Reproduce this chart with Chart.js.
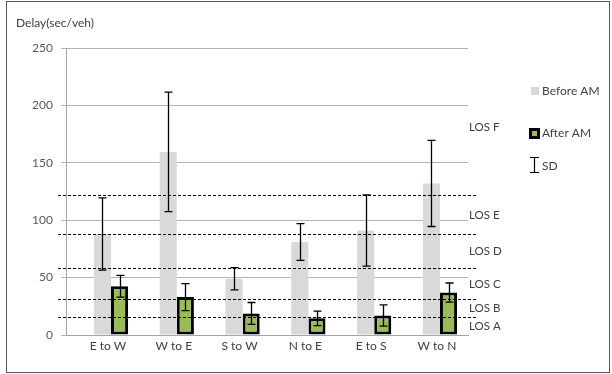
<!DOCTYPE html>
<html>
<head>
<meta charset="utf-8">
<script src="https://cdn.jsdelivr.net/npm/chart.js"></script>
<style>
  body { margin: 0; background: #fff; }
  #wrap { width: 612px; height: 374px; }
</style>
</head>
<body>
<div id="wrap"><canvas id="delayChart" width="612" height="374"></canvas></div>
<script>
// values
const directions = ['E to W', 'W to E', 'S to W', 'N to E', 'E to S', 'W to N'];
const beforeAM = [88, 159.5, 49, 81, 91, 132];
const beforeSD = [31.5, 52, 9.7, 16, 31, 37.5];
const afterAM = [42.5, 33, 18.8, 14.5, 17, 37];
const afterSD = [9.5, 11.7, 9.5, 6.3, 9.2, 8.3];
const losLimits = [16, 31, 58, 88, 122];
const losNames = ['LOS A', 'LOS B', 'LOS C', 'LOS D', 'LOS E', 'LOS F'];
const losLabelAt = [8, 23, 44, 72.5, 104.5, 181];

const FONT = 'Lato, "Liberation Sans", sans-serif';
const TEXT = '#404040';

const toPoints = (arr) => arr.map((v, i) => ({ x: i, y: v }));

const overlay = {
	id: 'overlay',
	afterDatasetsDraw(chart) {
		const ctx = chart.ctx;
		const y = chart.scales.y;
		const area = chart.chartArea;

		// LOS limits (dashed)
		ctx.save();
		ctx.strokeStyle = '#000';
		ctx.lineWidth = 1;
		ctx.setLineDash([3, 2]);
		losLimits.forEach((v) => {
			const py = Math.round(y.getPixelForValue(v)) + 0.5;
			ctx.beginPath();
			ctx.moveTo(58, py);
			ctx.lineTo(area.right + 10, py);
			ctx.stroke();
		});
		ctx.restore();

		// SD error bars
		const sds = [beforeSD, afterSD];
		const vals = [beforeAM, afterAM];
		ctx.save();
		ctx.strokeStyle = '#000';
		ctx.lineWidth = 1.3;
		[0, 1].forEach((d) => {
			chart.getDatasetMeta(d).data.forEach((bar, i) => {
				const x = Math.round(bar.x) + 0.5;
				const top = y.getPixelForValue(vals[d][i] + sds[d][i]);
				const bot = y.getPixelForValue(vals[d][i] - sds[d][i]);
				ctx.beginPath();
				ctx.moveTo(x, top);
				ctx.lineTo(x, bot);
				ctx.moveTo(x - 4, top);
				ctx.lineTo(x + 4, top);
				ctx.moveTo(x - 4, bot);
				ctx.lineTo(x + 4, bot);
				ctx.stroke();
			});
		});
		ctx.restore();
	},
	afterDraw(chart) {
		const ctx = chart.ctx;
		const y = chart.scales.y;
		const area = chart.chartArea;
		ctx.save();

		// outer frame
		ctx.strokeStyle = '#595959';
		ctx.lineWidth = 1;
		ctx.strokeRect(6.5, 1.5, 603, 371);

		ctx.fillStyle = TEXT;
		ctx.font = '12px ' + FONT;
		ctx.textBaseline = 'middle';
		ctx.fillText('Delay(sec/veh)', 16, 23);

		// LOS labels
		ctx.font = '11.5px ' + FONT;
		losNames.forEach((name, i) => {
			ctx.fillText(name, area.right + 1, y.getPixelForValue(losLabelAt[i]));
		});

		// legend
		ctx.fillStyle = '#d9d9d9';
		ctx.fillRect(531, 87, 8, 8);
		ctx.fillStyle = '#000';
		ctx.fillRect(529, 128, 11, 11);
		ctx.fillStyle = '#9bbb59';
		ctx.fillRect(532, 131, 5, 5);
		ctx.strokeStyle = '#000';
		ctx.lineWidth = 1.2;
		ctx.beginPath();
		ctx.moveTo(530, 157.5); ctx.lineTo(539, 157.5);
		ctx.moveTo(534.5, 157.5); ctx.lineTo(534.5, 172.5);
		ctx.moveTo(530, 172.5); ctx.lineTo(539, 172.5);
		ctx.stroke();
		ctx.fillStyle = TEXT;
		ctx.font = '12px ' + FONT;
		ctx.fillText('Before AM', 542, 91);
		ctx.fillText('After AM', 542, 133);
		ctx.fillText('SD', 542, 166);
		ctx.restore();
	}
};

new Chart(document.getElementById('delayChart'), {
	type: 'bar',
	data: {
		datasets: [{
			label: 'Before AM',
			data: toPoints(beforeAM),
			backgroundColor: '#d9d9d9',
			borderWidth: 0
		}, {
			label: 'After AM',
			data: toPoints(afterAM),
			backgroundColor: '#9bbb59',
			borderColor: '#000',
			borderWidth: 3,
			borderSkipped: false
		}]
	},
	options: {
		responsive: false,
		animation: false,
		categoryPercentage: 0.52,
		barPercentage: 1,
		layout: { padding: { top: 48, right: 144, bottom: 0, left: 0 } },
		scales: {
			x: {
				type: 'linear',
				offset: false,
				min: -0.684,
				max: 5.426,
				grid: { display: false, offset: false, drawTicks: false },
				border: { color: '#a6a6a6' },
				afterFit: (s) => { s.height = 39; },
				ticks: {
					stepSize: 1,
					includeBounds: false,
					autoSkip: false,
					maxRotation: 0,
					padding: 4,
					labelOffset: -3,
					color: TEXT,
					font: { family: FONT, size: 12 },
					callback: (v) => directions[v] || ''
				}
			},
			y: {
				min: 0,
				max: 250,
				grid: { color: '#b3b3b3', tickLength: 5 },
				border: { color: '#a6a6a6' },
				afterFit: (s) => { s.width = 66; },
				ticks: {
					stepSize: 50,
					padding: 8,
					color: '#595959',
					font: { family: FONT, size: 12 }
				}
			}
		},
		plugins: {
			legend: { display: false },
			tooltip: { enabled: false }
		}
	},
	plugins: [overlay]
});
</script>
</body>
</html>
